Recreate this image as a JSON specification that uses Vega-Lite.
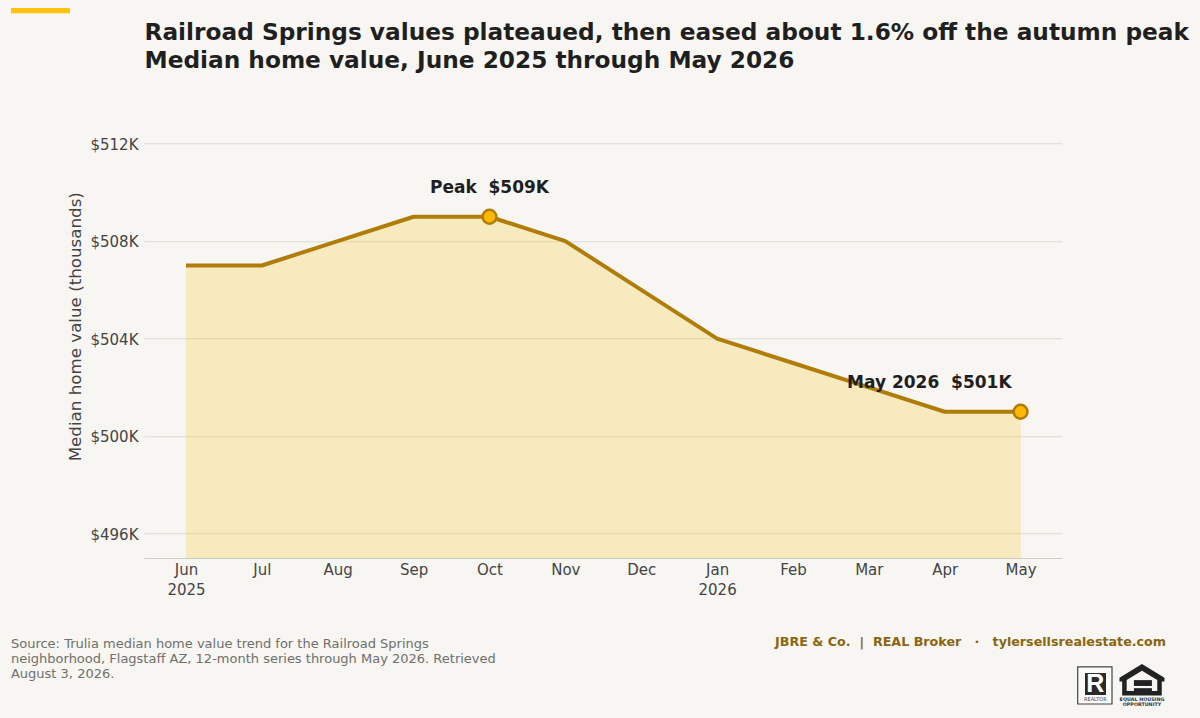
{
  "$schema": "https://vega.github.io/schema/vega-lite/v6.json",
  "autosize": {"type": "none"},
  "padding": {"left": 144, "top": 119.25, "right": 138, "bottom": 160},
  "width": 918,
  "height": 438.75,
  "background": "#f7f6f2",
  "config": {"font": "DejaVu Sans", "view": {"stroke": null}},
  "title": {
    "text": ["Railroad Springs values plateaued, then eased about 1.6% off the autumn peak", "Median home value, June 2025 through May 2026"],
    "anchor": "start",
    "frame": "group",
    "fontSize": 23.25,
    "fontWeight": "bold",
    "color": "#1f1f1f",
    "lineHeight": 27.5,
    "offset": -65,
    "dx": 0.5
  },
  "datasets": {
    "homes": [
      {"idx": 0, "month": "Jun 2025", "value": 507},
      {"idx": 1, "month": "Jul 2025", "value": 507},
      {"idx": 2, "month": "Aug 2025", "value": 508},
      {"idx": 3, "month": "Sep 2025", "value": 509},
      {"idx": 4, "month": "Oct 2025", "value": 509},
      {"idx": 5, "month": "Nov 2025", "value": 508},
      {"idx": 6, "month": "Dec 2025", "value": 506},
      {"idx": 7, "month": "Jan 2026", "value": 504},
      {"idx": 8, "month": "Feb 2026", "value": 503},
      {"idx": 9, "month": "Mar 2026", "value": 502},
      {"idx": 10, "month": "Apr 2026", "value": 501},
      {"idx": 11, "month": "May 2026", "value": 501}
    ],
    "callouts": [
      {"idx": 4, "value": 509, "label": "Peak\u00a0\u00a0$509K"},
      {"idx": 11, "value": 501, "label": "May 2026\u00a0\u00a0$501K"}
    ],
    "one": [{}]
  },
  "layer": [
    {
      "data": {"name": "homes"},
      "mark": {"type": "area", "color": "#ffc20e", "opacity": 0.22, "stroke": "#d9a520", "strokeWidth": 1, "strokeOpacity": 0.25},
      "encoding": {
        "x": {
          "field": "idx",
          "type": "quantitative",
          "scale": {"domain": [-0.5536, 11.546], "nice": false, "zero": false},
          "axis": {
            "values": [0, 1, 2, 3, 4, 5, 6, 7, 8, 9, 10, 11],
            "title": null,
            "grid": false,
            "ticks": false,
            "domainColor": "#cfcdc6",
            "labelFontSize": 15,
            "labelColor": "#444444",
            "labelPadding": 4.5,
            "labelLineHeight": 20,
            "labelOverlap": false,
            "labelFlush": false,
            "labelExpr": "split(['Jun|2025','Jul','Aug','Sep','Oct','Nov','Dec','Jan|2026','Feb','Mar','Apr','May'][datum.value],'|')"
          }
        },
        "y": {
          "field": "value",
          "type": "quantitative",
          "scale": {"domain": [495, 513], "nice": false, "zero": false},
          "axis": {
            "values": [496, 500, 504, 508, 512],
            "title": "Median home value (thousands)",
            "titleFontSize": 16.7,
            "titleFontWeight": "normal",
            "titleColor": "#444444",
            "titlePadding": 5,
            "titleY": 207,
            "grid": true,
            "gridColor": "#dcdad3",
            "ticks": false,
            "domain": false,
            "labelFontSize": 15,
            "labelColor": "#444444",
            "labelPadding": 6,
            "labelOffset": 0.7,
            "labelExpr": "'$' + datum.value + 'K'"
          }
        },
        "y2": {"datum": 495}
      }
    },
    {
      "data": {"name": "homes"},
      "mark": {"type": "line", "color": "#b07d0a", "strokeWidth": 4, "strokeJoin": "round"},
      "encoding": {
        "x": {"field": "idx", "type": "quantitative"},
        "y": {"field": "value", "type": "quantitative"}
      }
    },
    {
      "data": {"name": "callouts"},
      "mark": {"type": "point", "filled": true, "fill": "#ffb800", "stroke": "#b07d0a", "strokeWidth": 2.5, "opacity": 1, "size": 190},
      "encoding": {
        "x": {"field": "idx", "type": "quantitative"},
        "y": {"field": "value", "type": "quantitative"}
      }
    },
    {
      "data": {"name": "callouts"},
      "transform": [{"filter": "datum.idx == 4"}],
      "mark": {"type": "text", "fontWeight": "bold", "fontSize": 17, "color": "#1f1f1f", "dy": -29},
      "encoding": {
        "x": {"field": "idx", "type": "quantitative"},
        "y": {"field": "value", "type": "quantitative"},
        "text": {"field": "label"}
      }
    },
    {
      "data": {"name": "callouts"},
      "transform": [{"filter": "datum.idx == 11"}],
      "mark": {"type": "text", "fontWeight": "bold", "fontSize": 17, "color": "#1f1f1f", "align": "right", "dx": -9, "dy": -29},
      "encoding": {
        "x": {"field": "idx", "type": "quantitative"},
        "y": {"field": "value", "type": "quantitative"},
        "text": {"field": "label"}
      }
    },
    {
      "data": {"name": "one"},
      "mark": {"type": "rect", "color": "#ffc20e"},
      "encoding": {
        "x": {"datum": -2.307, "type": "quantitative"},
        "x2": {"datum": -1.529},
        "y": {"datum": 517.56, "type": "quantitative"},
        "y2": {"datum": 517.35}
      }
    },
    {
      "data": {"values": [{"line": "Source: Trulia median home value trend for the Railroad Springs\nneighborhood, Flagstaff AZ, 12-month series through May 2026. Retrieved\nAugust 3, 2026."}]},
      "mark": {"type": "text", "align": "left", "baseline": "middle", "lineBreak": "\n", "lineHeight": 15.2, "fontSize": 13, "color": "#6f6f6b"},
      "encoding": {
        "x": {"datum": -2.307, "type": "quantitative"},
        "y": {"datum": 491.48, "type": "quantitative"},
        "text": {"field": "line"}
      }
    },
    {
      "data": {"values": [{"line": "JBRE & Co.\u00a0\u00a0|\u00a0\u00a0REAL Broker\u00a0\u00a0\u00a0·\u00a0\u00a0\u00a0tylersellsrealestate.com"}]},
      "mark": {"type": "text", "align": "right", "baseline": "middle", "fontSize": 12.7, "fontWeight": "bold", "color": "#8a6510"},
      "encoding": {
        "x": {"datum": 12.917, "type": "quantitative"},
        "y": {"datum": 491.55, "type": "quantitative"},
        "text": {"field": "line"}
      }
    },
    {
      "data": {"name": "one"},
      "mark": {"type": "rect", "fill": "#fbfbf9", "stroke": "#444444", "strokeWidth": 1.2},
      "encoding": {
        "x": {"datum": 11.753, "type": "quantitative"},
        "x2": {"datum": 12.205},
        "y": {"datum": 490.53, "type": "quantitative"},
        "y2": {"datum": 489.01}
      }
    },
    {
      "data": {"name": "one"},
      "mark": {"type": "rect", "color": "#2a2a2a"},
      "encoding": {
        "x": {"datum": 11.849, "type": "quantitative"},
        "x2": {"datum": 12.126},
        "y": {"datum": 490.28, "type": "quantitative"},
        "y2": {"datum": 489.38}
      }
    },
    {
      "data": {"values": [{"line": "R"}]},
      "mark": {"type": "text", "font": "Liberation Sans", "fontWeight": "bold", "fontSize": 25, "color": "#ffffff", "baseline": "middle"},
      "encoding": {
        "x": {"datum": 11.985, "type": "quantitative"},
        "y": {"datum": 489.83, "type": "quantitative"},
        "text": {"field": "line"}
      }
    },
    {
      "data": {"values": [{"line": "REALTOR"}]},
      "mark": {"type": "text", "fontSize": 5, "color": "#444444", "baseline": "middle"},
      "encoding": {
        "x": {"datum": 11.985, "type": "quantitative"},
        "y": {"datum": 489.21, "type": "quantitative"},
        "text": {"field": "line"}
      }
    },
    {
      "data": {"name": "one"},
      "mark": {"type": "point", "filled": true, "opacity": 1, "color": "#222222", "size": 2025, "shape": "M0,-0.98 L1,-0.36 L1,-0.2 L0.88,-0.2 L0.88,0.42 L-0.88,0.42 L-0.88,-0.2 L-1,-0.2 L-1,-0.36 Z"},
      "encoding": {
        "x": {"datum": 12.6, "type": "quantitative"},
        "y": {"datum": 489.75, "type": "quantitative"}
      }
    },
    {
      "data": {"name": "one"},
      "mark": {"type": "point", "filled": true, "opacity": 1, "color": "#f7f6f2", "size": 2025, "shape": "M0,-0.68 L0.68,-0.26 L0.68,0.22 L-0.68,0.22 L-0.68,-0.26 Z"},
      "encoding": {
        "x": {"datum": 12.6, "type": "quantitative"},
        "y": {"datum": 489.75, "type": "quantitative"}
      }
    },
    {
      "data": {"name": "one"},
      "mark": {"type": "rect", "color": "#222222"},
      "encoding": {
        "x": {"datum": 12.494, "type": "quantitative"},
        "x2": {"datum": 12.731},
        "y": {"datum": 489.99, "type": "quantitative"},
        "y2": {"datum": 489.75}
      }
    },
    {
      "data": {"name": "one"},
      "mark": {"type": "rect", "color": "#222222"},
      "encoding": {
        "x": {"datum": 12.494, "type": "quantitative"},
        "x2": {"datum": 12.731},
        "y": {"datum": 489.66, "type": "quantitative"},
        "y2": {"datum": 489.46}
      }
    },
    {
      "data": {"values": [{"line": "EQUAL HOUSING"}]},
      "mark": {"type": "text", "fontSize": 4.8, "fontWeight": "bold", "color": "#333333", "baseline": "middle"},
      "encoding": {
        "x": {"datum": 12.6, "type": "quantitative"},
        "y": {"datum": 489.17, "type": "quantitative"},
        "text": {"field": "line"}
      }
    },
    {
      "data": {"values": [{"line": "OPPORTUNITY"}]},
      "mark": {"type": "text", "fontSize": 4.8, "fontWeight": "bold", "color": "#333333", "baseline": "middle"},
      "encoding": {
        "x": {"datum": 12.6, "type": "quantitative"},
        "y": {"datum": 488.95, "type": "quantitative"},
        "text": {"field": "line"}
      }
    }
  ]
}
